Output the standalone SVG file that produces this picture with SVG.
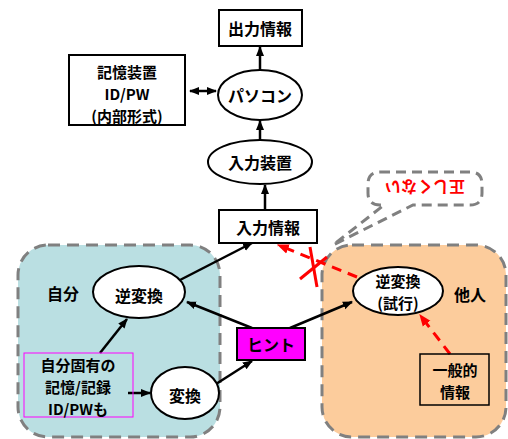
<svg xmlns="http://www.w3.org/2000/svg" width="508" height="439" viewBox="0 0 508 439">
<defs>
<marker id="ah" viewBox="0 0 10 10" refX="9" refY="5" markerWidth="4" markerHeight="4" orient="auto-start-reverse" markerUnits="strokeWidth"><path d="M0,1 L10,5 L0,9 Z" fill="#000"/></marker>
<marker id="ahr" viewBox="0 0 10 10" refX="9" refY="5" markerWidth="4" markerHeight="4" orient="auto" markerUnits="strokeWidth"><path d="M0,1 L10,5 L0,9 Z" fill="#ff0000"/></marker>
</defs>
<style>
text{font-family:"Noto Sans CJK JP","Liberation Sans",sans-serif;font-weight:bold;font-size:16px;text-anchor:middle;dominant-baseline:central;fill:#000}
text.m{font-size:15px}
.box{fill:#fff;stroke:#000;stroke-width:2}
.ell{fill:#fff;stroke:#000;stroke-width:2}
.region{stroke:#808080;stroke-width:3;stroke-dasharray:12,7}
.c{stroke:#000;stroke-width:2.5;fill:none;marker-end:url(#ah)}
.r{stroke:#ff0000;stroke-width:3;fill:none;stroke-dasharray:10,7;marker-end:url(#ahr)}
</style>
<rect width="508" height="439" fill="#fff"/>
<g id="region-self"><rect class="region" x="18" y="245" width="202" height="192" rx="30" fill="#badfe2"/></g>
<g id="region-other"><rect class="region" x="322" y="245" width="184" height="192" rx="30" fill="#fccc9c"/></g>
<g id="callout">
<path d="M380,172 H470 Q482,172 482,184 V193 Q482,205 470,205 H413 L333,245 L384,205 H380 Q368,205 368,193 V184 Q368,172 380,172 Z" fill="#fff" stroke="#808080" stroke-width="3" stroke-dasharray="10,6"/>
<text transform="rotate(180 425 188)" x="425" y="188" style="fill:#ff0000">正しくない</text>
</g>
<g id="connectors">
<line class="c" x1="260" y1="70" x2="260" y2="47"/>
<line class="c" x1="190" y1="91" x2="216" y2="91" style="marker-start:url(#ah)"/>
<line class="c" x1="260" y1="140" x2="260" y2="121"/>
<line class="c" x1="265" y1="210" x2="265" y2="185"/>
<line class="c" x1="180" y1="280" x2="252" y2="243"/>
<line class="c" x1="252" y1="328" x2="187" y2="302"/>
<line class="c" x1="290" y1="328" x2="352" y2="302"/>
<line class="c" x1="216" y1="384" x2="252" y2="361"/>
<line class="c" x1="100" y1="353" x2="127" y2="319"/>
<line class="c" x1="128" y1="393" x2="150" y2="393"/>
<line class="r" x1="357" y1="277" x2="278" y2="245"/>
<line class="r" x1="450" y1="354" x2="420" y2="315"/>
<line x1="300" y1="279" x2="327" y2="257" stroke="#ff0000" stroke-width="3"/>
<line x1="310" y1="247" x2="317" y2="287" stroke="#ff0000" stroke-width="3"/>
</g>
<g id="output"><rect class="box" x="219" y="10" width="83" height="36"/><text x="260" y="28">出力情報</text></g>
<g id="storage"><rect class="box" x="69" y="55" width="116" height="70"/><text class="m" x="127" y="71">記憶装置</text><text class="m" x="127" y="93">ID/PW</text><text class="m" x="127" y="115">(内部形式)</text></g>
<g id="pc"><ellipse class="ell" cx="260" cy="95" rx="42" ry="25"/><text x="260" y="95">パソコン</text></g>
<g id="input-device"><ellipse class="ell" cx="260" cy="162" rx="52" ry="22"/><text x="260" y="162">入力装置</text></g>
<g id="input-info"><rect class="box" x="219" y="210" width="98" height="33"/><text x="268" y="227">入力情報</text></g>
<g id="self-label"><text x="63" y="293">自分</text></g>
<g id="inverse"><ellipse class="ell" cx="139" cy="292" rx="46" ry="26"/><text x="139" y="295">逆変換</text></g>
<g id="hint"><rect x="237" y="328" width="68" height="32" fill="#ff00ff" stroke="#000" stroke-width="2"/><text x="271" y="344">ヒント</text></g>
<g id="own-memory"><rect x="24" y="353" width="109" height="64" fill="none" stroke="#ff00ff" stroke-width="1"/><text class="m" x="78" y="364">自分固有の</text><text class="m" x="78" y="386">記憶/記録</text><text class="m" x="78" y="408">ID/PWも</text></g>
<g id="transform"><ellipse class="ell" cx="185" cy="393" rx="34" ry="26"/><text x="185" y="395">変換</text></g>
<g id="inverse-trial"><ellipse class="ell" cx="398" cy="291" rx="45" ry="24"/><text class="m" x="398" y="280">逆変換</text><text class="m" x="398" y="302">(試行)</text></g>
<g id="other-label"><text x="470" y="294">他人</text></g>
<g id="general-info"><rect x="420" y="354" width="69" height="51" fill="none" stroke="#000" stroke-width="1.5"/><text class="m" x="455" y="369">一般的</text><text class="m" x="455" y="391">情報</text></g>
</svg>
